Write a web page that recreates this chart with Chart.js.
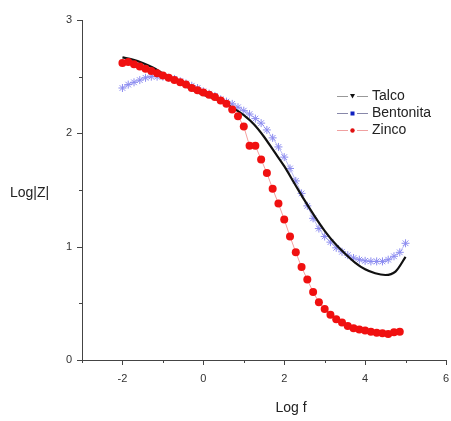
<!DOCTYPE html>
<html>
<head>
<meta charset="utf-8">
<script src="https://cdn.jsdelivr.net/npm/chart.js@4"></script>
<style>
html,body{margin:0;padding:0;background:#fff;}
#wrap{width:451px;height:421px;position:relative;}
</style>
</head>
<body>
<div id="wrap"><canvas id="c" width="451" height="421"></canvas></div>
<script>
// ---- data ----
const logF = [-2, -1.857, -1.714, -1.571, -1.429, -1.286, -1.143, -1, -0.857, -0.714,
  -0.571, -0.429, -0.286, -0.143, 0, 0.143, 0.286, 0.429, 0.571, 0.714,
  0.857, 1, 1.143, 1.286, 1.429, 1.571, 1.714, 1.857, 2, 2.143,
  2.286, 2.429, 2.571, 2.714, 2.857, 3, 3.143, 3.286, 3.429, 3.571,
  3.714, 3.857, 4, 4.143, 4.286, 4.429, 4.571, 4.714, 4.857, 5];

const zincoZ = [2.62, 2.63, 2.61, 2.59, 2.57, 2.55, 2.53, 2.51, 2.49, 2.47,
  2.45, 2.43, 2.40, 2.38, 2.36, 2.34, 2.32, 2.29, 2.26, 2.21,
  2.15, 2.06, 1.89, 1.89, 1.77, 1.65, 1.51, 1.38, 1.24, 1.09,
  0.95, 0.82, 0.71, 0.60, 0.51, 0.45, 0.40, 0.36, 0.33, 0.30,
  0.28, 0.27, 0.26, 0.25, 0.24, 0.235, 0.23, 0.245, 0.25];

const bentonitaZ = [2.40, 2.43, 2.45, 2.47, 2.49, 2.50, 2.50, 2.50, 2.49, 2.48,
  2.46, 2.44, 2.42, 2.40, 2.37, 2.35, 2.33, 2.30, 2.28, 2.26,
  2.23, 2.20, 2.17, 2.13, 2.09, 2.03, 1.96, 1.88, 1.79, 1.69,
  1.58, 1.47, 1.36, 1.25, 1.16, 1.09, 1.04, 0.99, 0.955, 0.925,
  0.90, 0.885, 0.875, 0.87, 0.87, 0.87, 0.885, 0.915, 0.95, 1.03];

const talcoF = [-2, -1.75, -1.5, -1.25, -1, -0.75, -0.5, -0.25, 0, 0.25,
  0.5, 0.75, 1, 1.25, 1.5, 1.75, 2, 2.25, 2.5, 2.75,
  3, 3.25, 3.5, 3.75, 4, 4.25, 4.5, 4.75, 5];
const talcoZ = [2.67, 2.65, 2.62, 2.58, 2.53, 2.48, 2.43, 2.38, 2.34, 2.31,
  2.27, 2.22, 2.16, 2.08, 1.97, 1.84, 1.71, 1.56, 1.41, 1.27,
  1.14, 1.03, 0.94, 0.86, 0.80, 0.765, 0.75, 0.78, 0.91];

const seriesNames = ['Talco', 'Bentonita', 'Zinco'];
const xTickLabels = [-2, 0, 2, 4, 6];
const yTickLabels = [0, 1, 2, 3];
const xTitle = 'Log f';
const yTitle = 'Log|Z|';

// ---- build ----
const pts = (xs, ys) => ys.map((y, i) => ({x: xs[i], y: y}));
const FONT = '"Liberation Sans", Arial, sans-serif';

const decorPlugin = {
  id: 'decor',
  afterDraw(chart) {
    const ctx = chart.ctx;
    const xs = chart.scales.x, ys = chart.scales.y;
    const ca = chart.chartArea;
    ctx.save();
    ctx.strokeStyle = '#444';
    ctx.lineWidth = 1;
    for (let v = -3; v <= 6; v += 1) {
      const px = Math.round(xs.getPixelForValue(v)) + 0.5;
      const len = (v % 2 === 0) ? 5 : 3;
      ctx.beginPath(); ctx.moveTo(px, ca.bottom); ctx.lineTo(px, ca.bottom + len); ctx.stroke();
    }
    for (let v = 0; v <= 3; v += 0.5) {
      const py = Math.round(ys.getPixelForValue(v)) + 0.5;
      const len = Number.isInteger(v) ? 5 : 3;
      ctx.beginPath(); ctx.moveTo(ca.left, py); ctx.lineTo(ca.left - len, py); ctx.stroke();
    }
    ctx.fillStyle = '#222';
    ctx.font = '14px ' + FONT;
    ctx.textBaseline = 'middle';
    ctx.textAlign = 'center';
    ctx.fillText(xTitle, 291, 408);
    ctx.textAlign = 'left';
    ctx.fillText(yTitle, 10, 193);
    const lx = 337, ly0 = 96, step = 17;
    chart.data.datasets.forEach((ds, i) => {
      const y = ly0 + i * step;
      ctx.strokeStyle = ds.legendLine;
      ctx.lineWidth = 1;
      ctx.beginPath();
      ctx.moveTo(lx, y + 0.5); ctx.lineTo(lx + 11, y + 0.5);
      ctx.moveTo(lx + 20, y + 0.5); ctx.lineTo(lx + 31, y + 0.5);
      ctx.stroke();
      const mx = lx + 15.5;
      ctx.fillStyle = ds.legendMarker;
      if (ds.legendShape === 'tri') {
        ctx.beginPath(); ctx.moveTo(mx - 2.5, y - 2); ctx.lineTo(mx + 2.5, y - 2); ctx.lineTo(mx, y + 2.5); ctx.closePath(); ctx.fill();
      } else if (ds.legendShape === 'sq') {
        ctx.fillRect(mx - 2, y - 1.5, 4, 4);
      } else {
        ctx.beginPath(); ctx.arc(mx, y + 0.5, 2.2, 0, Math.PI * 2); ctx.fill();
      }
      ctx.fillStyle = '#222';
      ctx.font = '14px ' + FONT;
      ctx.textAlign = 'left';
      ctx.textBaseline = 'middle';
      ctx.fillText(ds.label, lx + 35, y);
    });
    ctx.restore();
  }
};

new Chart(document.getElementById('c'), {
  type: 'scatter',
  data: {
    datasets: [
      {
        label: seriesNames[0],
        data: pts(talcoF, talcoZ),
        showLine: true,
        borderColor: '#111',
        borderWidth: 2.2,
        pointRadius: 0,
        cubicInterpolationMode: 'monotone',
        order: 2,
        legendLine: '#999', legendMarker: '#111', legendShape: 'tri'
      },
      {
        label: seriesNames[1],
        data: pts(logF, bentonitaZ),
        showLine: true,
        borderColor: 'rgba(140,140,240,0.6)',
        borderWidth: 1,
        pointStyle: 'star',
        pointRadius: 4,
        pointBorderColor: '#8c8cf0',
        pointBorderWidth: 1,
        pointBackgroundColor: '#8c8cf0',
        order: 3,
        legendLine: '#8888aa', legendMarker: '#1020c0', legendShape: 'sq'
      },
      {
        label: seriesNames[2],
        data: pts(logF, zincoZ),
        showLine: true,
        borderColor: '#f4a0a0',
        borderWidth: 1,
        pointStyle: 'circle',
        pointRadius: 4,
        pointBorderWidth: 0,
        pointBackgroundColor: '#f01010',
        pointBorderColor: '#f01010',
        order: 1,
        legendLine: '#f0a0a0', legendMarker: '#e01010', legendShape: 'dot'
      }
    ]
  },
  options: {
    responsive: false,
    animation: false,
    layout: { padding: { top: 20, right: 0, left: 0, bottom: 0 } },
    plugins: { legend: { display: false }, tooltip: { enabled: false } },
    scales: {
      x: {
        type: 'linear', min: -3, max: 6,
        border: { display: true, color: '#444', width: 1 },
        grid: { display: true, drawOnChartArea: false, drawTicks: true, tickLength: 5, color: 'transparent', tickColor: 'transparent' },
        afterBuildTicks(s) { s.ticks = xTickLabels.map(v => ({value: v})); },
        ticks: { color: '#333', font: { size: 11, family: FONT }, padding: 7, maxRotation: 0, autoSkip: false },
        afterFit(s) { s.height = 61; s.paddingRight = 5; s.paddingLeft = 0; }
      },
      y: {
        type: 'linear', min: 0, max: 3,
        border: { display: true, color: '#444', width: 1 },
        grid: { display: true, drawOnChartArea: false, drawTicks: true, tickLength: 5, color: 'transparent', tickColor: 'transparent' },
        afterBuildTicks(s) { s.ticks = yTickLabels.map(v => ({value: v})); },
        ticks: { color: '#333', font: { size: 11, family: FONT }, padding: 5 },
        afterFit(s) { s.width = 82; }
      }
    }
  },
  plugins: [decorPlugin]
});
</script>
</body>
</html>
